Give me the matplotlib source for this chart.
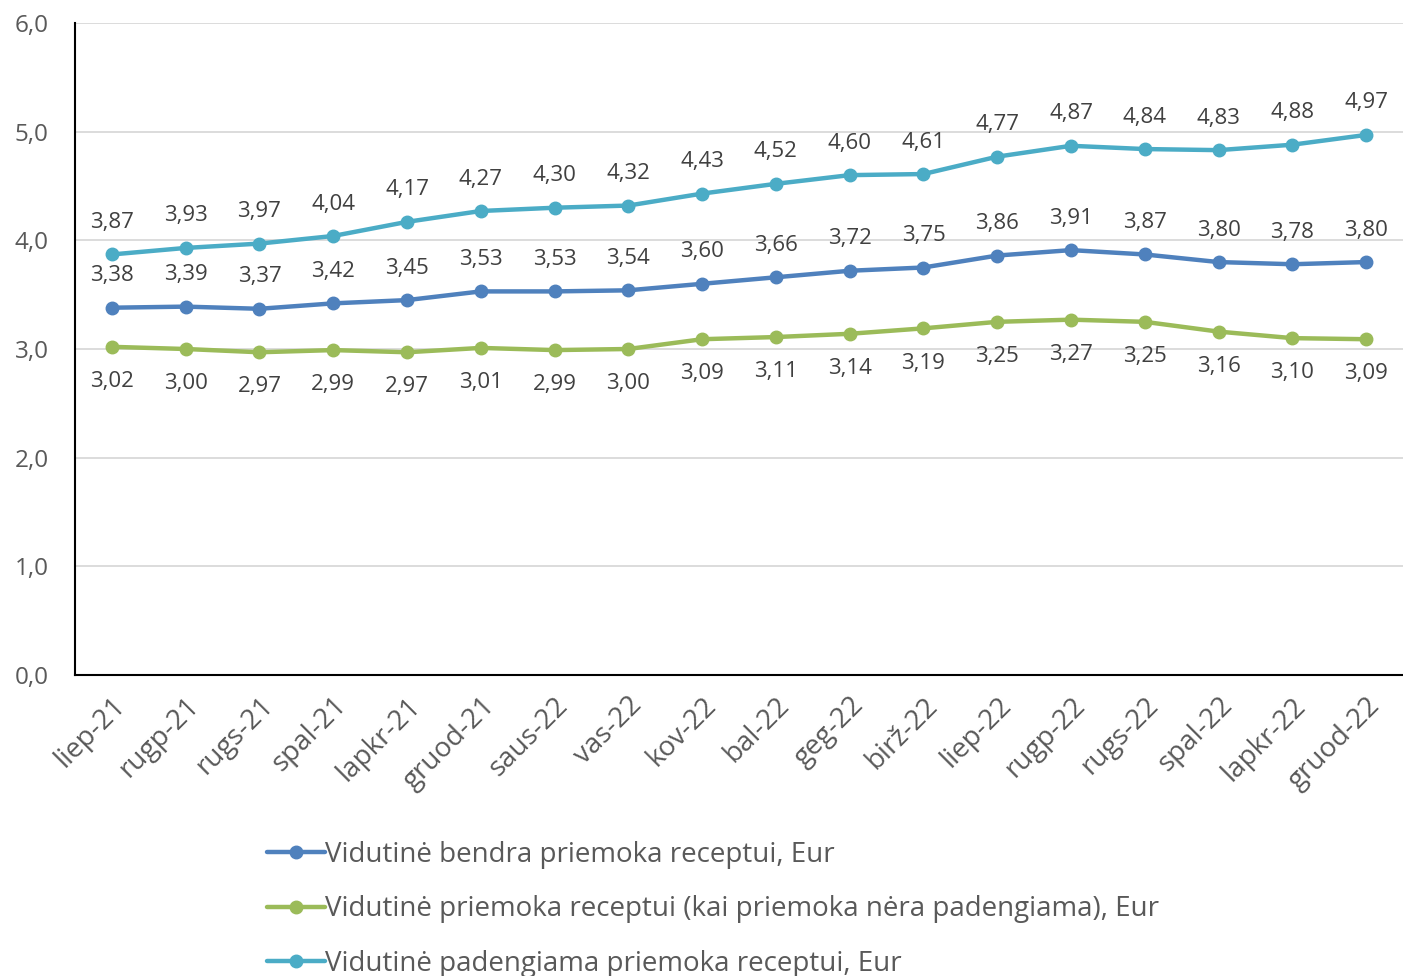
import matplotlib
matplotlib.use("Agg")
import matplotlib.pyplot as plt

plt.rcParams['font.family'] = ['Open Sans', 'DejaVu Sans']

categories = ["liep-21", "rugp-21", "rugs-21", "spal-21", "lapkr-21", "gruod-21",
              "saus-22", "vas-22", "kov-22", "bal-22", "geg-22", "birž-22",
              "liep-22", "rugp-22", "rugs-22", "spal-22", "lapkr-22", "gruod-22"]
bendra = [3.38, 3.39, 3.37, 3.42, 3.45, 3.53, 3.53, 3.54, 3.60, 3.66, 3.72, 3.75,
          3.86, 3.91, 3.87, 3.80, 3.78, 3.80]
nepadengiama = [3.02, 3.00, 2.97, 2.99, 2.97, 3.01, 2.99, 3.00, 3.09, 3.11, 3.14, 3.19,
                3.25, 3.27, 3.25, 3.16, 3.10, 3.09]
padengiama = [3.87, 3.93, 3.97, 4.04, 4.17, 4.27, 4.30, 4.32, 4.43, 4.52, 4.60, 4.61,
              4.77, 4.87, 4.84, 4.83, 4.88, 4.97]
names = ["Vidutinė bendra priemoka receptui, Eur",
         "Vidutinė priemoka receptui (kai priemoka nėra padengiama), Eur",
         "Vidutinė padengiama priemoka receptui, Eur"]
yticks = [0, 1, 2, 3, 4, 5, 6]

c_blue = "#4F81BD"
c_green = "#9BBB59"
c_cyan = "#4BACC6"
txt = "#595959"
lbl = "#404040"

fig = plt.figure(figsize=(14.03, 9.76), dpi=100)
ax = fig.add_axes([75/1403, 1-675/976, 1328/1403, (675-23)/976])

x = list(range(len(categories)))
series = [(bendra, c_blue, 23), (nepadengiama, c_green, -25), (padengiama, c_cyan, 23)]
for (vals, col, off), name in zip(series, names):
    ax.plot(x, vals, color=col, lw=3.2, marker='o', markersize=9, label=name,
            solid_capstyle='round', zorder=3)
    for xi, v in zip(x, vals):
        ax.annotate(f"{v:.2f}".replace('.', ','), (xi, v), xytext=(0, off),
                    textcoords='offset points', ha='center', va='center',
                    fontsize=16, color=lbl)

ax.set_xlim(-0.5, len(categories) - 0.5)
ax.set_ylim(0, 6)
ax.set_yticks(yticks)
ax.set_yticklabels([f"{t:.1f}".replace('.', ',') for t in yticks], fontsize=17.5, color=txt)
ax.set_xticks(x)
ax.set_xticklabels(categories, rotation=45, ha='right', rotation_mode='anchor',
                   fontsize=20, color=txt)
ax.tick_params(axis='both', length=0)
ax.tick_params(axis='y', pad=19)
ax.tick_params(axis='x', pad=12)
ax.grid(axis='y', color='#D9D9D9', lw=1.3, zorder=0)
ax.set_axisbelow(True)
for s in ['top', 'right']:
    ax.spines[s].set_visible(False)
for s in ['left', 'bottom']:
    ax.spines[s].set_color('black')
    ax.spines[s].set_linewidth(1.5)

handles, labels = ax.get_legend_handles_labels()
fig.legend(handles, labels, loc='upper left', bbox_to_anchor=(267/1403, 1-841/976),
           frameon=False, fontsize=20, labelcolor=txt, handlelength=2.1,
           handletextpad=0.0, labelspacing=0.95, borderpad=0, borderaxespad=0)

fig.savefig("out.png", dpi=100)
